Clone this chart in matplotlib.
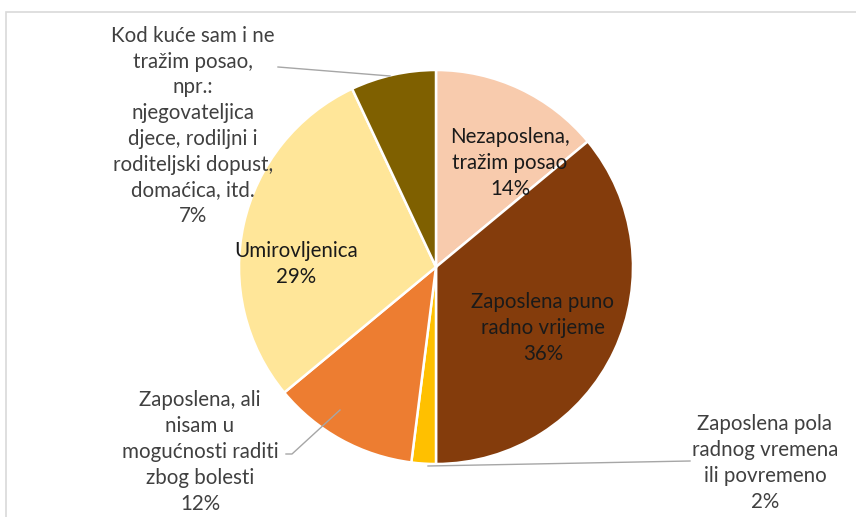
import matplotlib
matplotlib.use("Agg")
import matplotlib.pyplot as plt
from matplotlib.patches import Rectangle

# data
labels = [
    "Nezaposlena,\ntražim posao",
    "Zaposlena puno\nradno vrijeme",
    "Zaposlena pola\nradnog vremena\nili povremeno",
    "Zaposlena, ali\nnisam u\nmogućnosti raditi\nzbog bolesti",
    "Umirovljenica",
    "Kod kuće sam i ne\ntražim posao,\nnpr.:\nnjegovateljica\ndjece, rodiljni i\nroditeljski dopust,\ndomaćica, itd.",
]
values = [14, 36, 2, 12, 29, 7]
colors = ["#F8CBAD", "#843C0C", "#FFC000", "#ED7D31", "#FFE699", "#7F6000"]

W, H = 856, 517
plt.rcParams['font.family'] = ['Lato', 'DejaVu Sans']

fig = plt.figure(figsize=(W / 100, H / 100), dpi=100)
ax = fig.add_axes([0, 0, 1, 1])

# chart frame (only left/top visible)
ax.add_patch(Rectangle((6, -20), W + 40, H - 12 + 20, fill=False,
                       edgecolor="#D9D9D9", linewidth=1.2))

cx, cy, r = 436, H - 267, 197
ax.pie(values, colors=colors, startangle=90, counterclock=False,
       center=(cx, cy), radius=r, frame=True,
       wedgeprops=dict(edgecolor="white", linewidth=1.8))
ax.set_xlim(0, W)
ax.set_ylim(0, H)
ax.axis("off")

fs = 14.8
ls = 1.36
txt = "#404040"

def lab(i, x, y, color=txt):
    ax.text(x, H - y, f"{labels[i]}\n{values[i]}%", ha="center", va="center",
            fontsize=fs, color=color, linespacing=ls)

lab(0, 510, 163, "#1a1a1a")
lab(1, 543, 328, "#1a1a1a")
lab(2, 765, 463)
lab(3, 200, 452)
lab(4, 296, 264, "#1a1a1a")
lab(5, 193, 126)

# leader lines
lc = "#A6A6A6"
ax.plot([278, 390], [H - 67, H - 76], color=lc, lw=1)
ax.plot([428, 690], [H - 466, H - 461], color=lc, lw=1)
ax.plot([286, 292, 340], [H - 454, H - 454, H - 410], color=lc, lw=1)

fig.savefig("out.png", dpi=100)
